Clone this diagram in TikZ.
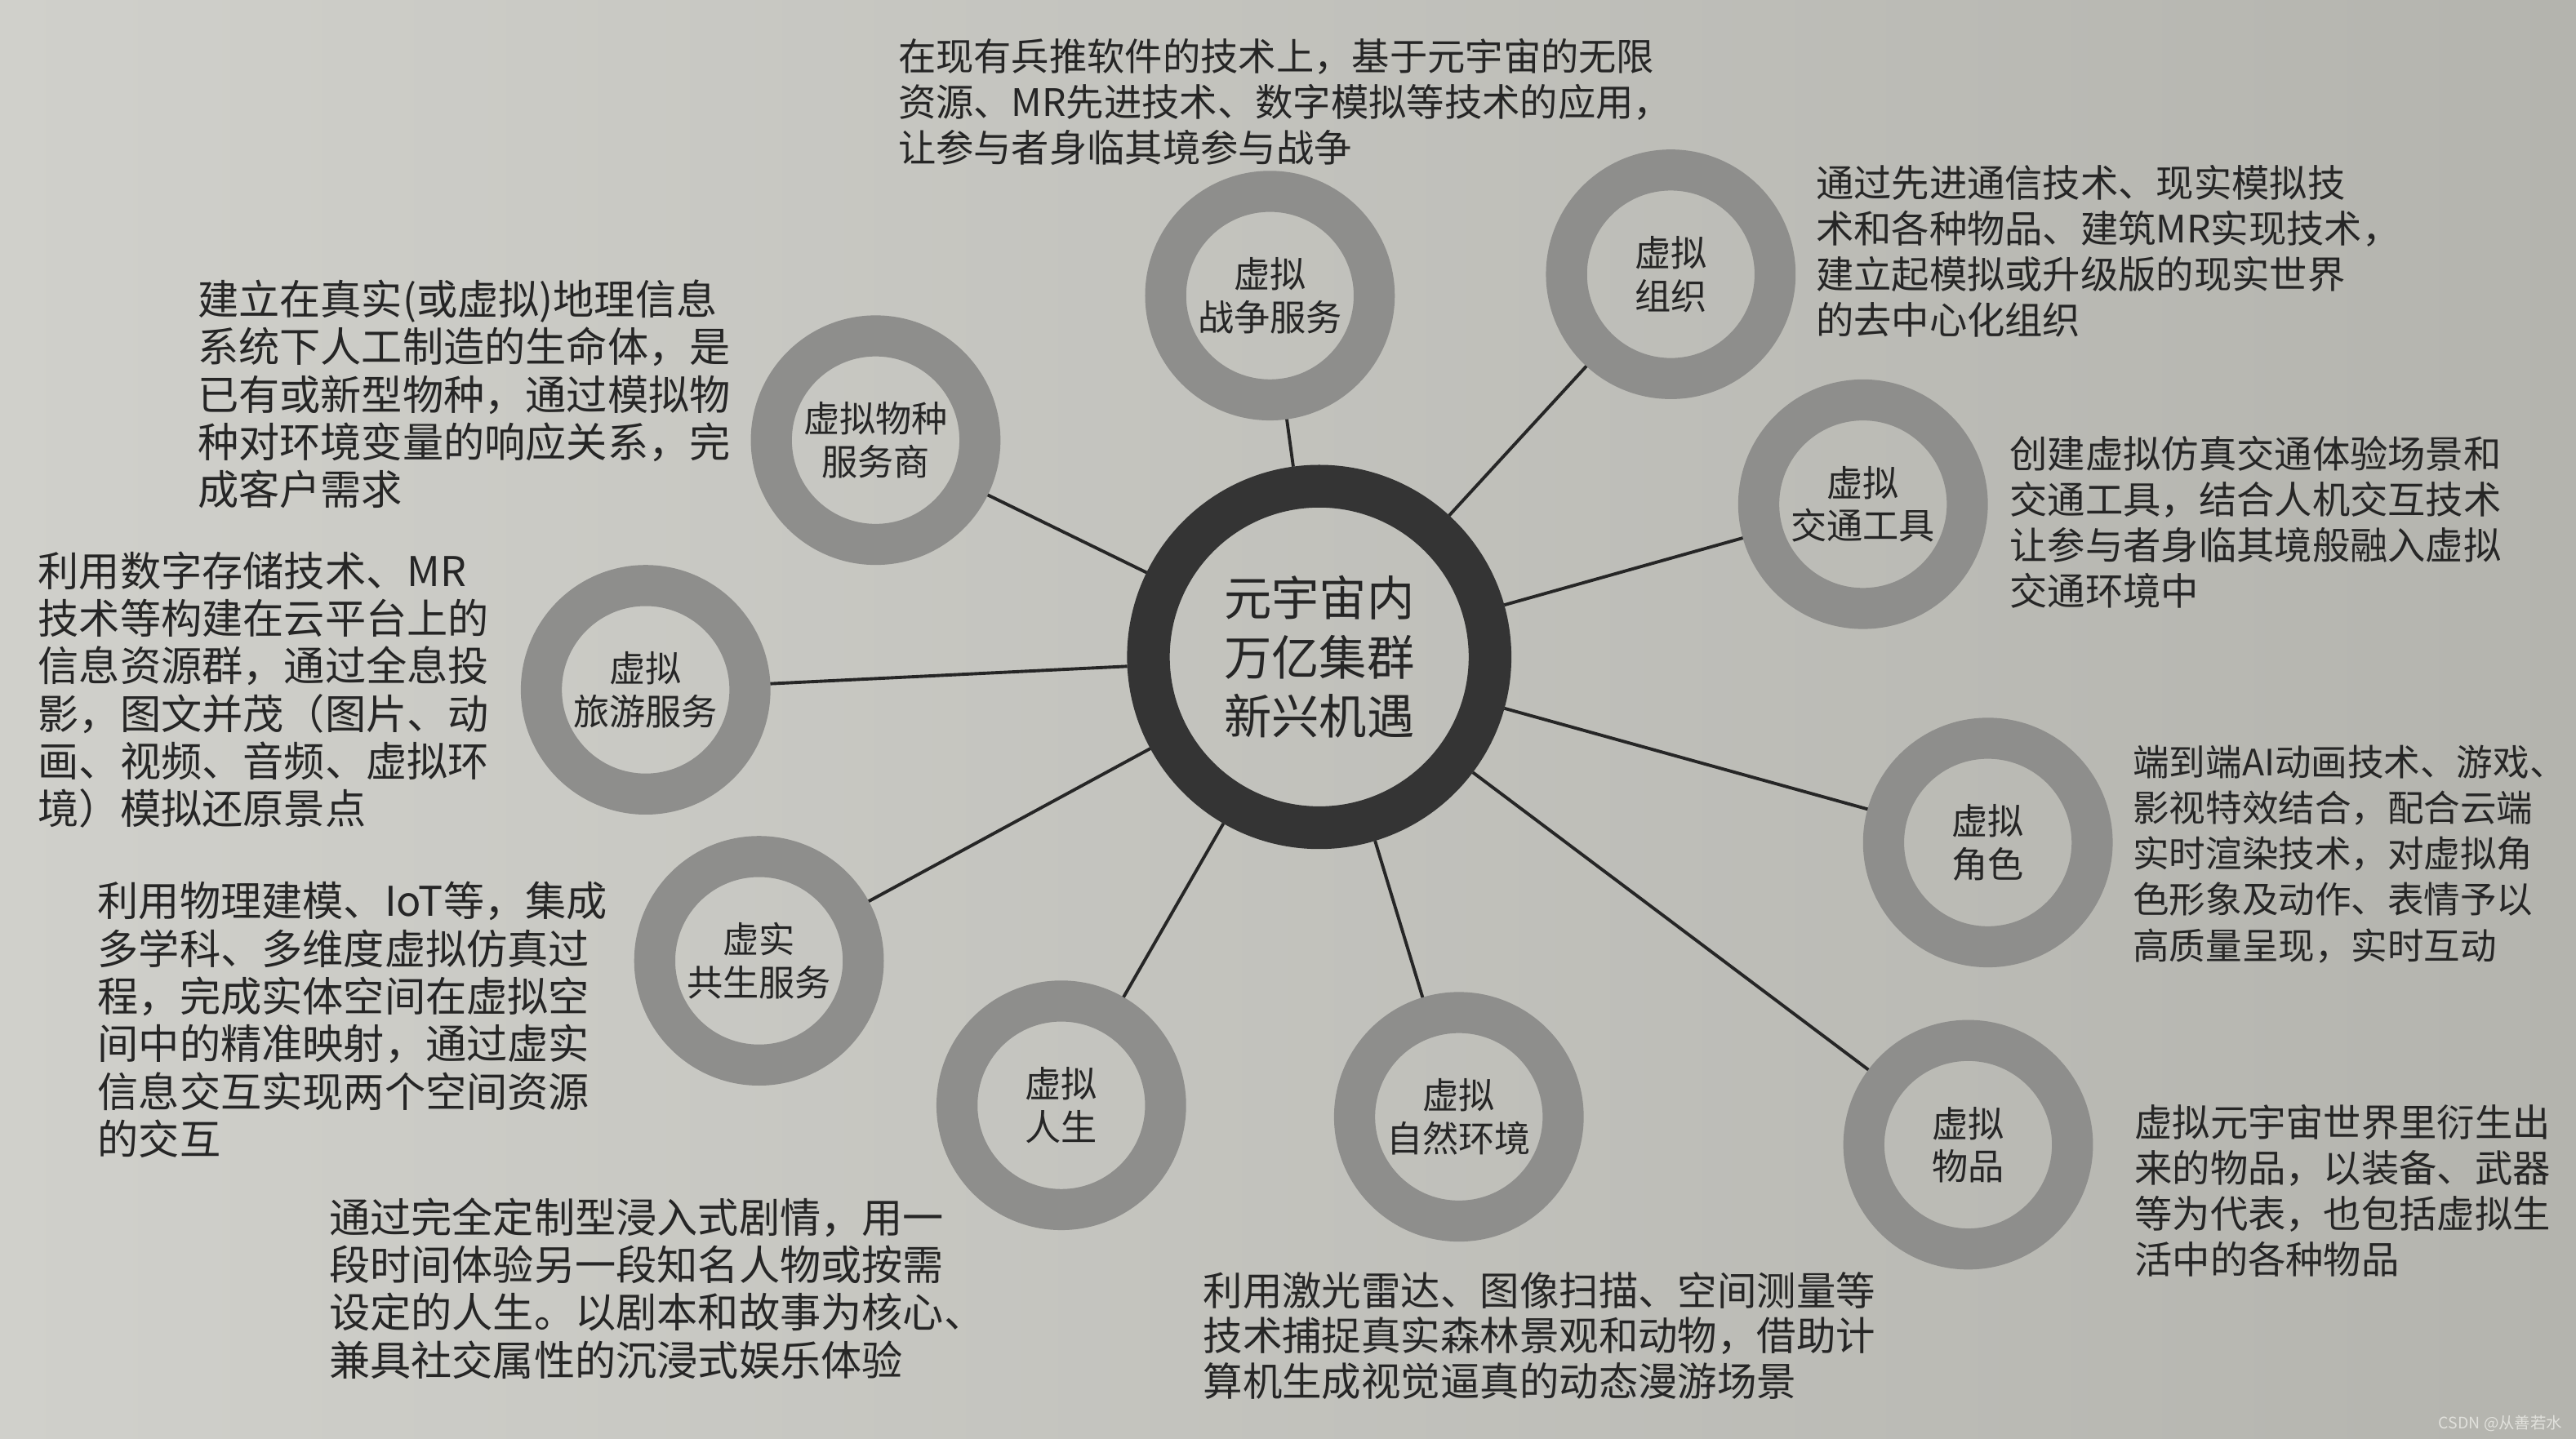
\documentclass[tikz,border=0pt]{standalone}
\usepackage{fontspec}
\setmainfont{Noto Sans CJK SC}
\usetikzlibrary{positioning}
\definecolor{paperL}{RGB}{208,208,203}
\definecolor{paperR}{RGB}{180,180,174}
\definecolor{inkc}{RGB}{38,38,38}
\definecolor{corering}{RGB}{52,52,52}
\definecolor{satring}{RGB}{142,142,140}
\definecolor{markc}{RGB}{225,225,220}
\tikzset{
  core/.style={
    circle, draw=corering, line width=0.52cm, minimum size=4.16cm,
    inner sep=0pt, align=center, text=inkc,
    font=\fontsize{16.5pt}{20.5pt}\selectfont
  },
  satellite/.style={
    circle, draw=satring, line width=0.5cm, minimum size=2.54cm,
    inner sep=0pt, align=center, text=inkc,
    font=\fontsize{12.5pt}{14.8pt}\selectfont
  },
  desc/.style={
    align=left, inner sep=0pt, text=inkc,
    font=\fontsize{13.1pt}{15.9pt}\selectfont
  },
  descL/.style={
    desc, font=\fontsize{14.2pt}{16.5pt}\selectfont
  },
  link/.style={
    draw=inkc, line width=1.1pt
  }
}

\begin{document}
\begin{tikzpicture}[x=0.02cm, y=-0.02cm]

\useasboundingbox (0,0) rectangle (1568,876);
\shade[left color=paperL, right color=paperR] (0,0) rectangle (1568,876);

% Centre
\node (centre) [core] at (803,400) {元宇宙内\\万亿集群\\新兴机遇};

% Satellites (autour du centre)
\node (war_service) [satellite] at (773,180) {虚拟\\战争服务};
\node (organisation) [satellite] at (1017,167) {虚拟\\组织};
\node (transport) [satellite] at (1134,307) {虚拟\\交通工具};
\node (role) [satellite] at (1210,513) {虚拟\\角色};
\node (item) [satellite] at (1198,697) {虚拟\\物品};
\node (nature) [satellite] at (888,680) {虚拟\\自然环境};
\node (life) [satellite] at (646,673) {虚拟\\人生};
\node (twin_service) [satellite] at (462,585) {虚实\\共生服务};
\node (travel) [satellite] at (393,420) {虚拟\\旅游服务};
\node (species) [satellite] at (533,268) {虚拟物种\\服务商};

% Descriptions
\node (war_text) [desc, above=0.06cm of war_service, xshift=0.18cm] {
  在现有兵推软件的技术上，基于元宇宙的无限\\
  资源、MR先进技术、数字模拟等技术的应用，\\
  让参与者身临其境参与战争};
\node (org_text) [desc, right=0.24cm of organisation, yshift=0.28cm] {
  通过先进通信技术、现实模拟技\\
  术和各种物品、建筑MR实现技术，\\
  建立起模拟或升级版的现实世界\\
  的去中心化组织};
\node (transport_text) [desc, right=0.26cm of transport, yshift=-0.22cm] {
  创建虚拟仿真交通体验场景和\\
  交通工具，结合人机交互技术\\
  让参与者身临其境般融入虚拟\\
  交通环境中};
\node (role_text) [desc, font=\fontsize{12.6pt}{15.9pt}\selectfont,
  right=0.24cm of role, yshift=-0.14cm] {
  端到端AI动画技术、游戏、\\
  影视特效结合，配合云端\\
  实时渲染技术，对虚拟角\\
  色形象及动作、表情予以\\
  高质量呈现，实时互动};
\node (item_text) [desc, right=0.5cm of item, yshift=-0.56cm] {
  虚拟元宇宙世界里衍生出\\
  来的物品，以装备、武器\\
  等为代表，也包括虚拟生\\
  活中的各种物品};
\node (nature_text) [desc, font=\fontsize{13.7pt}{15.7pt}\selectfont,
  below=0.36cm of nature, xshift=0.98cm] {
  利用激光雷达、图像扫描、空间测量等\\
  技术捕捉真实森林景观和动物，借助计\\
  算机生成视觉逼真的动态漫游场景};
\node (life_text) [descL, anchor=north west] at (200,729) {
  通过完全定制型浸入式剧情，用一\\
  段时间体验另一段知名人物或按需\\
  设定的人生。以剧本和故事为核心、\\
  兼具社交属性的沉浸式娱乐体验};
\node (twin_text) [descL, left=0.32cm of twin_service, yshift=-0.72cm] {
  利用物理建模、IoT等，集成\\
  多学科、多维度虚拟仿真过\\
  程，完成实体空间在虚拟空\\
  间中的精准映射，通过虚实\\
  信息交互实现两个空间资源\\
  的交互};
\node (travel_text) [descL, left=0.38cm of travel] {
  利用数字存储技术、MR\\
  技术等构建在云平台上的\\
  信息资源群，通过全息投\\
  影，图文并茂（图片、动\\
  画、视频、音频、虚拟环\\
  境）模拟还原景点};
\node (species_text) [descL, left=0.24cm of species, yshift=0.56cm] {
  建立在真实(或虚拟)地理信息\\
  系统下人工制造的生命体，是\\
  已有或新型物种，通过模拟物\\
  种对环境变量的响应关系，完\\
  成客户需求};

% Liens centre vers satellites
\foreach \sat in {war_service, organisation, transport, role, item,
                  nature, life, twin_service, travel, species} {
  \draw [link] (centre) -- (\sat);
}

% Filigrane
\node (mark) [anchor=base east, inner sep=0pt, text=markc,
  font=\fontsize{5.5pt}{6pt}\selectfont] at (1560,870) {CSDN @从善若水};

\end{tikzpicture}
\end{document}
